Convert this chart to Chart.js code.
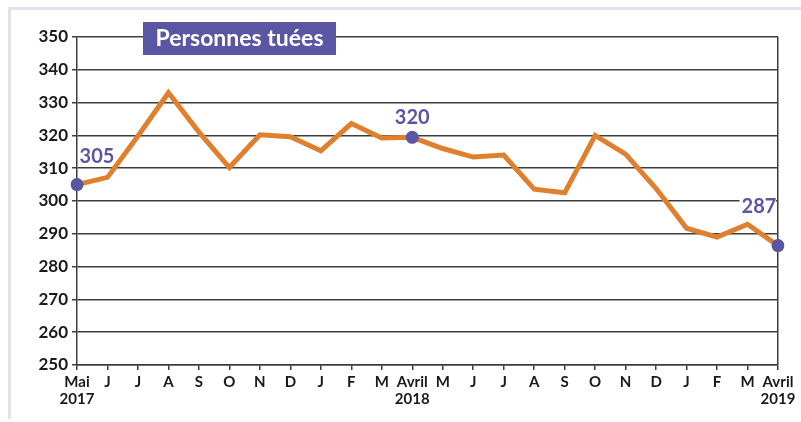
<!DOCTYPE html>
<html><head><meta charset="utf-8">
<script src="https://cdn.jsdelivr.net/npm/chart.js@4/dist/chart.umd.min.js"></script>
<style>
html,body{margin:0;padding:0;background:#fff;}
#wrap{position:relative;width:801px;height:422px;}
#frameTop{position:absolute;left:8px;top:7px;width:793px;height:3px;background:#e2e1f1;}
#frameLeft{position:absolute;left:8px;top:7px;width:3px;height:412px;background:#e2e1f1;}
canvas{position:absolute;left:0;top:0;}
</style></head>
<body>
<div id="wrap"><div id="frameTop"></div><div id="frameLeft"></div><canvas id="c" width="801" height="422"></canvas></div>
<script>
const months = [["Mai","2017"],"J","J","A","S","O","N","D","J","F","M",["Avril","2018"],"M","J","J","A","S","O","N","D","J","F","M",["Avril","2019"]];
const killed = [305,307.2,319.8,333,321,310.2,320.2,319.6,315.3,323.6,319.2,319.4,316,313.4,314,303.6,302.5,320,314.3,303.8,291.7,289,292.9,286.4];
const highlighted = {0:"305",11:"320",23:"287"};
const yTicks = [250,260,270,280,290,300,310,320,330,340,350];
const title = "Personnes tuées";

const FONT = "Lato, 'Open Sans', sans-serif";
const PURPLE = "#5a56a3";
const GRID = "#3d3d3d";

const annot = {
  id:'annot',
  afterDatasetsDraw(chart){
    const ctx = chart.ctx, x = chart.scales.x, y = chart.scales.y;
    ctx.save();
    // title box
    ctx.fillStyle = PURPLE;
    ctx.fillRect(143,22,193,33);
    ctx.fillStyle = "#fff";
    ctx.font = "bold 23px " + FONT;
    ctx.textAlign = "center"; ctx.textBaseline = "middle";
    ctx.fillText(title, 239.5, 39);
    // value labels
    ctx.font = "bold 20px " + FONT;
    ctx.textBaseline = "alphabetic";
    Object.keys(highlighted).forEach(k=>{
      const i = +k;
      const px = x.getPixelForValue(i), py = y.getPixelForValue(killed[i]);
      let tx, ty;
      if(i===0){ tx = px+20; ty = py-22; }
      else if(i===23){ tx = px-19; ty = py-33; }
      else { tx = px; ty = py-13; }
      const t = highlighted[k];
      const w = ctx.measureText(t).width;
      if(i===23){
        ctx.fillStyle="#fff";
        const left = tx-w/2-2, right = Math.min(tx+w/2+2, chart.chartArea.right-2);
        ctx.fillRect(left, ty-15, right-left, 17);
      }
      ctx.fillStyle = PURPLE;
      ctx.fillText(t, tx, ty);
    });
    ctx.restore();
  }
};

new Chart(document.getElementById('c'), {
  type:'line',
  data:{labels:months, datasets:[{
    data:killed,
    borderColor:"#e0802e",
    borderWidth:5,
    tension:0,
    pointRadius: killed.map((v,i)=> (i in highlighted) ? 6.5 : 0),
    pointBackgroundColor: PURPLE,
    pointBorderWidth:0,
    pointHoverRadius:0
  }]},
  options:{
    responsive:false, animation:false, devicePixelRatio:1,
    layout:{padding:{left:0,right:23,top:37,bottom:0}},
    plugins:{legend:{display:false}, tooltip:{enabled:false}},
    scales:{
      x:{
        offset:false,
        grid:{
          drawOnChartArea:true,
          color:(c)=> c.index===months.length-1 ? GRID : 'rgba(0,0,0,0)',
          tickColor:GRID, tickLength:5, lineWidth:1.5
        },
        border:{color:GRID,width:1.5},
        ticks:{autoSkip:false, maxRotation:0, color:"#1a1a1a", padding:4, font:{family:FONT,weight:'bold',size:15,lineHeight:1.1}},
        afterFit(s){ s.height = 57; }
      },
      y:{
        min:250,max:350,
        afterBuildTicks(s){ s.ticks = yTicks.map(v=>({value:v})); },
        grid:{color:GRID, lineWidth:1.5, tickColor:GRID, tickLength:5},
        border:{color:GRID,width:1.5},
        ticks:{color:"#1a1a1a", padding:4, font:{family:FONT,weight:'bold',size:17}},
        afterFit(s){ s.width = 77; }
      }
    }
  },
  plugins:[annot]
});
</script>
</body></html>
